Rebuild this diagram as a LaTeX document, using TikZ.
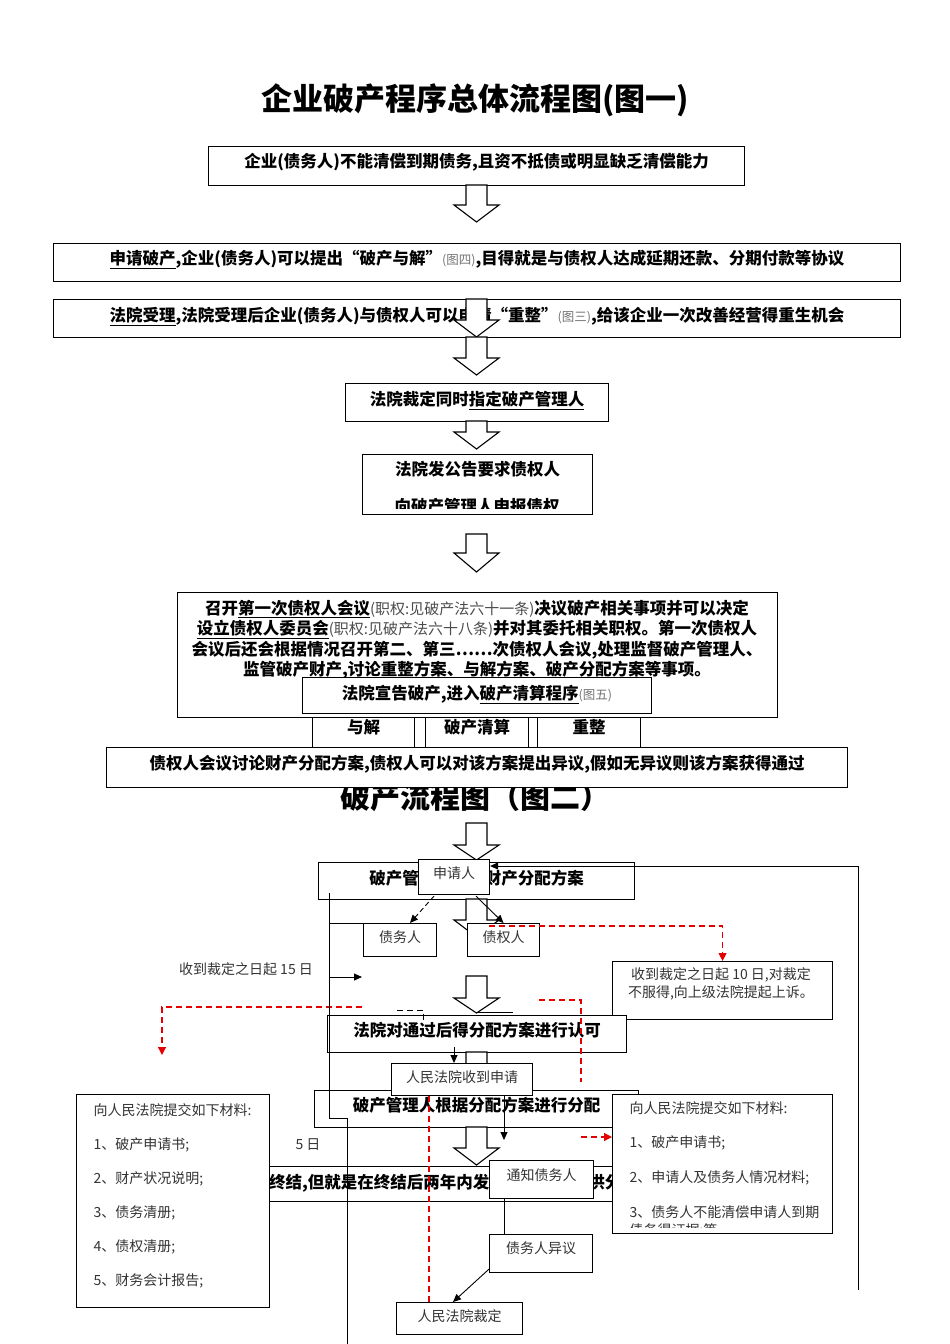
\documentclass[tikz,border=0pt]{standalone}
\usepackage{fontspec}
\setmainfont{Noto Sans CJK SC}
\usetikzlibrary{arrows.meta}
\tikzset{
  box/.style={draw, line width=1.1pt, fill=white, inner sep=0pt, anchor=north west},
  main/.style={font=\fontsize{16.5}{20.5}\selectfont\bfseries},
  lite/.style={font=\fontsize{14}{18}\selectfont, text=black!80},
  con/.style={line width=0.9pt},
  arr/.style={con, -{Triangle[length=8pt,width=7pt]}},
  reddash/.style={draw=red!90!black, line width=1.2pt, dash pattern=on 6pt off 4pt},
  redarr/.style={reddash, -{Triangle[length=8pt,width=8pt]}},
}
\newcommand{\hollowdown}[4]{%
  \draw[line width=1.1pt, fill=white] (#1-10.5,#2) -- (#1-10.5,#3) -- (#1-22.5,#3)
    -- (#1,#4) -- (#1+22.5,#3) -- (#1+10.5,#3) -- (#1+10.5,#2) -- cycle;}
\newcommand{\figtag}[1]{{\fontsize{12.5}{14}\selectfont\mdseries\color{black!55}#1}}
\newcommand{\lawnote}[1]{{\fontsize{15}{20.5}\selectfont\mdseries\color{black!70}#1}}
\begin{document}
\begin{tikzpicture}[x=1pt,y=-1pt]
\useasboundingbox (0,0) rectangle (950,1344);
% figure one
\node[font=\fontsize{31}{36}\selectfont\bfseries, anchor=base] (title) at (475,110) {企业破产程序总体流程图(图一)};
\node[box, main, minimum width=536pt, text height=21.3pt, text depth=17.7pt] (b1) at (208,146) {企业(债务人)不能清偿到期债务,且资不抵债或明显缺乏清偿能力};
\hollowdown{476.5}{185}{205}{222}
\node[box, main, minimum width=847pt, text height=21.3pt, text depth=16.7pt] (b2) at (53,243) {\underline{申请破产},企业(债务人)可以提出“破产与解”\figtag{(图四)},目得就是与债权人达成延期还款、分期付款等协议};
\node[box, main, minimum width=847pt, text height=22.3pt, text depth=15.7pt] (b3) at (53,299) {\underline{法院受理},法院受理后企业(债务人)与债权人可以申请“重整”\figtag{(图三)},给该企业一次改善经营得重生机会};
\hollowdown{476.5}{299}{320}{337}
\hollowdown{476.5}{337}{358}{375}
\node[box, main, minimum width=263pt, text height=22.3pt, text depth=15.7pt] (b4) at (345,383) {法院裁定同时\underline{指定破产管理人}};
\hollowdown{476.5}{421}{432}{449}
\node[box, main, minimum width=230pt, text height=21.3pt, text depth=38.7pt] (b5) at (362,454) {法院发公告要求债权人};
\begin{scope}
  \clip (362,454) rectangle (592,508.5);
  \node[main, anchor=base] (b5b) at (477,512) {向破产管理人申报债权};
\end{scope}
\hollowdown{476.5}{534}{553}{572}
\node[box, minimum width=600pt, minimum height=125pt] (b6) at (177,592) {};
\node[main, align=center] (b6t) at (477,639.5) {召开\underline{第一次债权人会议}\lawnote{(职权:见破产法六十一条)}决议破产相关事项并可以决定\\
  \underline{设立债权人委员会}\lawnote{(职权:见破产法六十八条)}并对其委托相关职权。第一次债权人\\
  会议后还会根据情况召开第二、第三……次债权人会议,处理监督破产管理人、\\
  监管破产财产,讨论重整方案、与解方案、破产分配方案等事项。};
\node[box, main, minimum width=349pt, text height=22.3pt, text depth=13.7pt] (b7) at (302,677) {法院宣告破产,进入\underline{破产清算程序}\figtag{(图五)}};
\node[box, main, minimum width=102pt, text height=16.3pt, text depth=26.7pt] (yj) at (312,717) {与解};
\node[box, main, minimum width=103pt, text height=16.3pt, text depth=26.7pt] (qs) at (425,717) {破产清算};
\node[box, main, minimum width=103pt, text height=16.3pt, text depth=26.7pt] (cz) at (537,717) {重整};
\node[font=\fontsize{30}{36}\selectfont\bfseries, anchor=base] (title2) at (475,808.5) {破产流程图（图二）};
\node[box, main, minimum width=741pt, text height=22.3pt, text depth=17.7pt] (b8) at (106,747) {债权人会议讨论财产分配方案,债权人可以对该方案提出异议,假如无异议则该方案获得通过};
% figure two
\hollowdown{476.5}{823}{845}{860}
\node[box, main, minimum width=316pt, text height=22.3pt, text depth=14.7pt] (ba) at (318,862) {破产管理人拟定财产分配方案};
\hollowdown{476.5}{899}{920}{937}
\node[box, lite, minimum width=71pt, text height=19.3pt, text depth=15.7pt] (sq) at (418,859) {申请人};
\node[box, lite, minimum width=73pt, text height=19.3pt, text depth=13.7pt] (dr) at (363,923) {债务人};
\node[box, lite, minimum width=72pt, text height=19.3pt, text depth=13.7pt] (cr) at (467,923) {债权人};
\draw[arr, dash pattern=on 5pt off 3pt] ([xshift=16pt,yshift=-1pt]sq.south west) -- ([xshift=47pt]dr.north west);
\draw[arr] ([xshift=58pt,yshift=-1pt]sq.south west) -- (cr.north);
\node[box, minimum width=220pt, minimum height=58pt] (ap) at (612,961) {};
\node[lite, align=center] (apt) at (721,984) {收到裁定之日起 10 日,对裁定\\不服得,向上级法院提起上诉。};
\draw[redarr] ([xshift=22pt,yshift=-3pt]cr.north west) -| (ap.north);
\hollowdown{476.5}{976}{998}{1013}
\node[box, main, minimum width=299pt, text height=21.3pt, text depth=15.7pt] (la) at (327,1015) {法院对通过后得分配方案进行认可};
\coordinate (dsA) at (397,1010);
\coordinate (dsB) at (423,1022);
\draw[con, dash pattern=on 6pt off 4pt] (dsA) -| (dsB);
\coordinate (slA) at (476,1012);
\coordinate (slB) at (513,1012);
\draw[con] (slA) -- (slB);
\coordinate (rlA) at (362,1007);
\coordinate (rlB) at (162,1055);
\draw[redarr] (rlA) -| (rlB);
\coordinate (rrA) at (539,1000);
\coordinate (rrB) at (581,1082);
\draw[reddash] (rrA) -| (rrB);
\hollowdown{476.5}{1052}{1072}{1088}
\node[box, main, minimum width=324pt, text height=21.3pt, text depth=15.7pt] (fp) at (314,1090) {破产管理人根据分配方案进行分配};
\node[box, lite, minimum width=141pt, text height=19.3pt, text depth=12.7pt] (rc) at (391,1063) {人民法院收到申请};
\draw[arr] ([xshift=127pt,yshift=6pt]la.south west) -- ([xshift=63pt]rc.north west);
\hollowdown{476.5}{1127}{1148}{1165}
\node[box, main, minimum width=614pt, text height=22.3pt, text depth=12.7pt] (zj) at (190,1166) {破产程序终结,但就是在终结后两年内发现破产人有可供分配得财产,应当追加分配};
\node[box, minimum width=193pt, minimum height=213pt] (lm) at (76,1094) {};
\foreach \txt [count=\i] in {向人民法院提交如下材料:,1、破产申请书;,2、财产状况说明;,3、债务清册;,4、债权清册;,5、财务会计报告;}
  \node[lite, anchor=base west] (lm\i) at (90,1115.3+34*\i-34) {\txt};
\node[box, minimum width=220pt, minimum height=139pt] (rm) at (612,1094) {};
\foreach \txt [count=\i] in {向人民法院提交如下材料:,1、破产申请书;,2、申请人及债务人情况材料;,3、债务人不能清偿申请人到期}
  \node[lite, anchor=base west] (rm\i) at (626,1113.3+34.6*\i-34.6) {\txt};
\begin{scope}
  \clip (612,1094) rectangle (832,1227);
  \node[lite, anchor=base west] (rm5) at (626,1235.3) {债务得证据;等};
\end{scope}
\node[box, lite, minimum width=104pt, text height=20.3pt, text depth=17.7pt] (nt) at (489,1160) {通知债务人};
\node[box, lite, minimum width=103pt, text height=19.3pt, text depth=18.7pt] (dy) at (489,1234) {债务人异议};
\draw[con] ([xshift=15pt]nt.south west) -- ([xshift=15pt]dy.north west);
\node[box, lite, minimum width=126pt, text height=19.3pt, text depth=12.7pt] (rd) at (396,1302) {人民法院裁定};
\draw[arr] ([yshift=4pt]dy.south west) -- ([xshift=57pt]rd.north west);
\draw[reddash] ([xshift=38pt]rc.south west) -- ([xshift=33pt]rd.north west);
\coordinate (rgA) at (581,1137);
\draw[redarr] (rgA) -- (rgA -| rm.west);
\coordinate (rcEnd) at (504,1140);
\draw[arr] ([xshift=113pt]rc.south west) -- (rcEnd);
% outer lines
\coordinate (rb) at (858,1290);
\draw[arr] (rb) |- ([yshift=-7pt]sq.north east);
\coordinate (lt) at (329,893);
\coordinate (lk) at (329,1118);
\coordinate (lb) at (347,1344);
\draw[con] (lt) -- (lk) -| (lb);
\coordinate (lh) at (329,923);
\draw[con] (lh) -- (dr.north west);
\coordinate (la1) at (329,977);
\coordinate (la2) at (362,977);
\draw[arr] (la1) -- (la2);
\node[lite, anchor=base] (d15) at (246,974.3) {收到裁定之日起 15 日};
\node[lite, anchor=base] (d5) at (308,1149.3) {5 日};
\end{tikzpicture}
\end{document}
